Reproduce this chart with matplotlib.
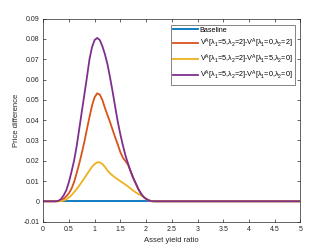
import matplotlib
matplotlib.use("Agg")
import matplotlib.pyplot as plt
from matplotlib.ticker import FuncFormatter

plt.rcParams['font.family'] = ['Liberation Sans', 'DejaVu Sans']
plt.rcParams['axes.unicode_minus'] = False
plt.rcParams['mathtext.fontset'] = 'custom'
plt.rcParams['mathtext.rm'] = 'Liberation Sans'
plt.rcParams['mathtext.it'] = 'Liberation Sans'

# asset yield ratio grid
x = [0.0, 0.20, 0.25, 0.30, 0.35, 0.40, 0.45, 0.50, 0.55, 0.60, 0.65, 0.70, 0.75,
     0.80, 0.85, 0.90, 0.95, 1.00, 1.05, 1.10, 1.15, 1.20, 1.25, 1.30, 1.35,
     1.40, 1.45, 1.50, 1.55, 1.60, 1.65, 1.70, 1.75, 1.80, 1.85, 1.90, 1.95,
     2.00, 2.05, 2.10, 2.15, 5.0]

baseline = [0.0] * len(x)

# V^A[5,2] - V^A[0,2]
diff_l1 = [0, 0, 0, 0.0001, 0.0005, 0.0013, 0.0025, 0.0040, 0.0062, 0.0094, 0.0138,
           0.0185, 0.0237, 0.0292, 0.0355, 0.0415, 0.0472, 0.0513, 0.0532, 0.0526,
           0.0500, 0.0460, 0.0425, 0.0390, 0.0352, 0.0315, 0.0280, 0.0242, 0.0215,
           0.0198, 0.0180, 0.0148, 0.0115, 0.0088, 0.0060, 0.0038, 0.0022, 0.0012,
           0.0005, 0.0001, 0, 0]

# V^A[5,2] - V^A[5,0]
diff_l2 = [0, 0, 0, 0, 0.0001, 0.0004, 0.0010, 0.0019, 0.0030, 0.0045, 0.0060,
           0.0077, 0.0095, 0.0114, 0.0133, 0.0152, 0.0170, 0.0184, 0.0192, 0.0192,
           0.0184, 0.0170, 0.0152, 0.0138, 0.0127, 0.0117, 0.0108, 0.0099, 0.0091,
           0.0082, 0.0073, 0.0063, 0.0053, 0.0044, 0.0036, 0.0030, 0.0022, 0.0012,
           0.0005, 0.0001, 0, 0]

# V^A[5,2] - V^A[0,0]
diff_both = [0, 0, 0, 0.0003, 0.0012, 0.0030, 0.0055, 0.0095, 0.0145, 0.0200, 0.0270,
             0.0355, 0.0440, 0.0525, 0.0610, 0.0700, 0.0760, 0.0795, 0.0805, 0.0795,
             0.0765, 0.0725, 0.0675, 0.0610, 0.0540, 0.0465, 0.0392, 0.0330, 0.0275,
             0.0225, 0.0185, 0.0148, 0.0115, 0.0088, 0.0060, 0.0038, 0.0022, 0.0012,
             0.0005, 0.0001, 0, 0]

labels = ['Baseline',
          r'V$^{A}$[$\lambda_1$=5,$\lambda_2$=2]-V$^{A}$[$\lambda_1$=0,$\lambda_2$=2]',
          r'V$^{A}$[$\lambda_1$=5,$\lambda_2$=2]-V$^{A}$[$\lambda_1$=5,$\lambda_2$=0]',
          r'V$^{A}$[$\lambda_1$=5,$\lambda_2$=2]-V$^{A}$[$\lambda_1$=0,$\lambda_2$=0]']
colors = ['#0072BD', '#D95319', '#EDB120', '#7E2F8E']

fig = plt.figure(figsize=(3.32, 2.49), dpi=100)
ax = fig.add_axes([0.13, 0.11, 0.775, 0.815])

for y, lab, c in zip([baseline, diff_l1, diff_l2, diff_both], labels, colors):
    ax.plot(x, y, color=c, lw=1.3, label=lab)

ax.set_xlim(0, 5)
ax.set_ylim(-0.01, 0.09)
ax.set_xticks([i * 0.5 for i in range(11)])
ax.set_yticks([i * 0.01 - 0.01 for i in range(11)])
ax.xaxis.set_major_formatter(FuncFormatter(lambda v, p: '%g' % round(v, 3)))
ax.yaxis.set_major_formatter(FuncFormatter(lambda v, p: '%g' % round(v, 3)))
ax.tick_params(direction='in', length=2.5, width=0.5, labelsize=5,
               top=True, right=True, colors='#262626', pad=2.5)
ax.tick_params(axis='x', pad=3.5)
for s in ax.spines.values():
    s.set_linewidth(0.5)
    s.set_color('#262626')

ax.set_xlabel('Asset yield ratio', fontsize=5.5, color='#262626', labelpad=2.5)
ax.set_ylabel('Price difference', fontsize=5.5, color='#262626', labelpad=3)

leg = ax.legend(loc='upper right', fontsize=5.2, frameon=True, fancybox=False,
                edgecolor='#262626', handlelength=3.4, borderpad=0.3,
                labelspacing=0.4, handletextpad=0.3, borderaxespad=0,
                bbox_to_anchor=(0.977, 0.971))
leg.get_frame().set_linewidth(0.5)

fig.savefig('out.png', dpi=100)
